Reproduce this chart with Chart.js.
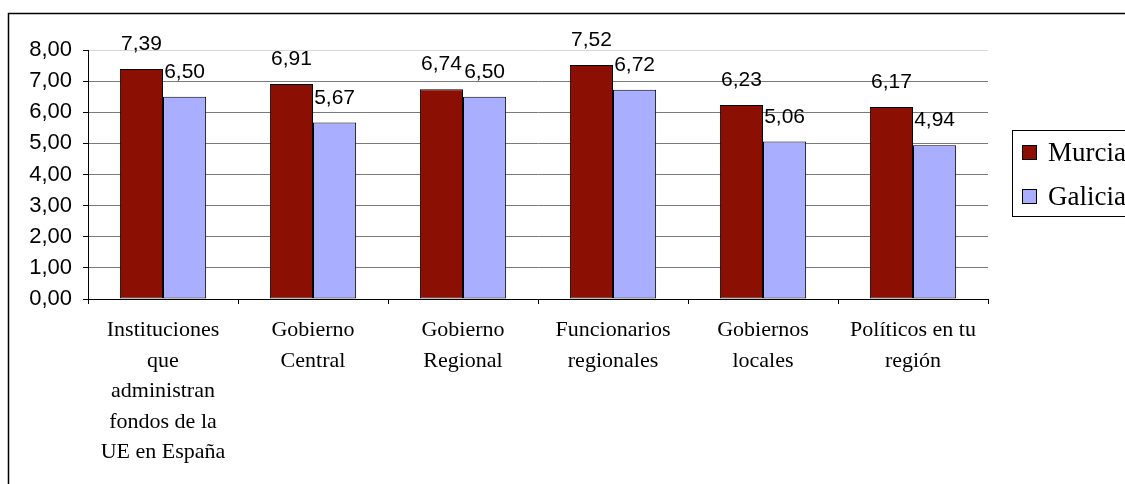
<!DOCTYPE html>
<html>
<head>
<meta charset="utf-8">
<script src="https://cdn.jsdelivr.net/npm/chart.js@4/dist/chart.umd.min.js"></script>
<style>
  html, body { margin: 0; padding: 0; background: #fff; }
  #wrap { width: 1125px; height: 484px; position: relative; }
</style>
</head>
<body>
<div id="wrap"><canvas id="c" width="1125" height="484"></canvas></div>
<script>
// Categories (multi-line labels) and the two regional series
const categories = [
  ['Instituciones', 'que', 'administran', 'fondos de la', 'UE en España'],
  ['Gobierno', 'Central'],
  ['Gobierno', 'Regional'],
  ['Funcionarios', 'regionales'],
  ['Gobiernos', 'locales'],
  ['Políticos en tu', 'región']
];
const seriesNames = ['Murcia', 'Galicia'];
const murcia = [7.39, 6.91, 6.74, 7.52, 6.23, 6.17];
const galicia = [6.50, 5.67, 6.50, 6.72, 5.06, 4.94];
const yTicks = [0, 1, 2, 3, 4, 5, 6, 7, 8];

const colors = ['#8B1003', '#AAAEFF'];
const fmt = v => v.toFixed(2).replace('.', ',');
const SANS = '"Liberation Sans", Arial, sans-serif';
const SERIF = '"Liberation Serif", "Times New Roman", serif';

// Outer frame, value labels and the boxed legend
const decor = {
  id: 'decor',
  beforeDraw(chart) {
    const c = chart.ctx;
    c.save();
    c.fillStyle = '#fff';
    c.fillRect(0, 0, chart.width, chart.height);
    c.strokeStyle = '#000';
    c.lineWidth = 1.5;
    c.strokeRect(8.5, 13.5, chart.width + 20, chart.height + 20);
    c.restore();
  },
  afterDatasetsDraw(chart) {
    const c = chart.ctx;
    c.save();
    c.font = '21px ' + SANS;
    c.fillStyle = '#000';
    c.textAlign = 'center';
    c.textBaseline = 'alphabetic';
    chart.data.datasets.forEach((ds, i) => {
      chart.getDatasetMeta(i).data.forEach((bar, j) => {
        c.fillText(fmt(ds.data[j]), bar.x, bar.y - 19);
      });
    });
    // legend
    const lx = 1012.5, ly = 130.5, lw = 140, lh = 86;
    c.lineWidth = 1;
    c.strokeStyle = '#000';
    c.fillStyle = '#fff';
    c.fillRect(lx, ly, lw, lh);
    c.strokeRect(lx, ly, lw, lh);
    c.font = '27px ' + SERIF;
    c.textAlign = 'left';
    chart.data.datasets.forEach((ds, i) => {
      const cy = 153 + i * 44;
      c.fillStyle = ds.backgroundColor;
      c.fillRect(1022.5, cy - 7.5, 14, 14);
      c.strokeRect(1022.5, cy - 7.5, 14, 14);
      c.fillStyle = '#000';
      c.fillText(ds.label, 1048, cy + 8);
    });
    c.restore();
  }
};

new Chart(document.getElementById('c'), {
  type: 'bar',
  data: {
    labels: categories,
    datasets: seriesNames.map((name, i) => ({
      label: name,
      data: i === 0 ? murcia : galicia,
      backgroundColor: colors[i],
      borderColor: '#000',
      borderWidth: 1,
      borderSkipped: false,
      categoryPercentage: 0.575,
      barPercentage: 1
    }))
  },
  options: {
    responsive: false,
    animation: false,
    devicePixelRatio: 1,
    layout: { padding: { left: 0, top: 50, right: 137, bottom: 0 } },
    plugins: { legend: { display: false }, tooltip: { enabled: false } },
    scales: {
      x: {
        grid: {
          drawOnChartArea: false,
          drawTicks: true,
          tickLength: 5,
          tickColor: '#000',
          offset: true
        },
        border: { color: '#000', width: 1 },
        ticks: {
          maxRotation: 0,
          autoSkip: false,
          padding: 11,
          color: '#000',
          font: { family: SERIF, size: 22, lineHeight: 1.39 }
        },
        afterFit(s) { s.height = 185; }
      },
      y: {
        min: 0,
        max: 8,
        afterBuildTicks(s) { s.ticks = yTicks.map(v => ({ value: v })); },
        grid: {
          color: ctx => (ctx.tick && ctx.tick.value === 8) ? '#d8d8d8' : '#7a7a7a',
          tickColor: '#000',
          tickLength: 5,
          lineWidth: 1
        },
        border: { color: '#000', width: 1 },
        ticks: {
          padding: 11,
          color: '#000',
          font: { family: SANS, size: 22 },
          callback: v => fmt(v)
        },
        afterFit(s) { s.width = 88; }
      }
    }
  },
  plugins: [decor]
});
</script>
</body>
</html>
